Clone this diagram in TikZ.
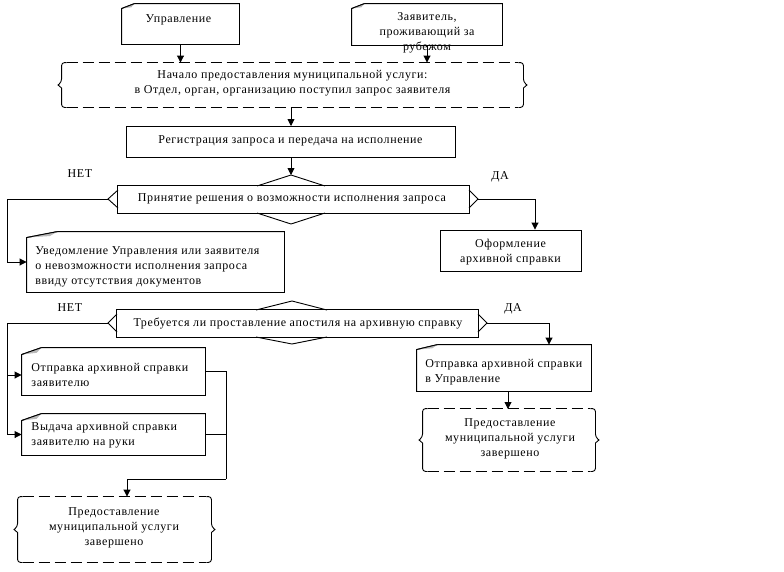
\documentclass[tikz,border=0pt]{standalone}
\usepackage{fontspec}
\setmainfont{Liberation Serif}[LetterSpace=5]
\usetikzlibrary{arrows.meta}

\newcommand\docframe[3]{%
  \draw ([yshift=-#3]#1.north west) -- ([xshift=#2]#1.north west) -- (#1.north east) -- (#1.south east) -- (#1.south west) -- cycle;
  \fill[gray!55] ([yshift=-#3]#1.north west) -- ([xshift=#2]#1.north west) -- ([xshift=0.75*#2, yshift=-0.75*#3]#1.north west) -- cycle;
  \draw ([yshift=-#3]#1.north west) -- ([xshift=#2]#1.north west);
}
\newcommand\termframe[1]{%
  \draw[term] ([xshift=5pt]#1.north west) -- ([xshift=-5pt]#1.north east);
  \draw[term] ([xshift=5pt]#1.south west) -- ([xshift=-5pt]#1.south east);
  \draw[rounded corners=3pt] ([xshift=5pt]#1.north west) -- (#1.north west) -- ([yshift=3pt]#1.west)
     [sharp corners] -- ([xshift=-3.5pt]#1.west) -- ([yshift=-3pt]#1.west)
     [rounded corners=3pt] -- (#1.south west) -- ([xshift=5pt]#1.south west);
  \draw[rounded corners=3pt] ([xshift=-5pt]#1.north east) -- (#1.north east) -- ([yshift=3pt]#1.east)
     [sharp corners] -- ([xshift=3.5pt]#1.east) -- ([yshift=-3pt]#1.east)
     [rounded corners=3pt] -- (#1.south east) -- ([xshift=-5pt]#1.south east);
}

\begin{document}
\begin{tikzpicture}[x=1pt,y=-1pt, line width=0.9pt,
  box/.style={draw, rectangle, inner sep=0pt, fill=white},
  frame/.style={draw=none, rectangle, inner sep=0pt},
  txt/.style={inner sep=0pt, font=\fontsize{12}{15}\selectfont, align=center},
  ltxt/.style={inner sep=0pt, font=\fontsize{12}{15}\selectfont, align=left, anchor=west},
  lab/.style={inner sep=0pt, font=\fontsize{12}{14}\selectfont},
  arr/.style={-{Triangle[length=7pt,width=7pt]}},
  term/.style={dash pattern=on 11pt off 5pt}
]
\useasboundingbox[fill=white] (0,0) rectangle (784,571);

% --- top sources
\node[frame, minimum width=117pt, minimum height=40pt] (upr) at (180.5,24) {};
\docframe{upr}{13pt}{5pt}
\node[txt] (uprT) at (178.5,20) {Управление};

\node[frame, minimum width=150pt, minimum height=41pt] (zav) at (427,24.5) {};
\docframe{zav}{13pt}{5pt}

% --- start terminator
\node[frame, minimum width=461pt, minimum height=44pt] (start) at (292.5,85) {};
\termframe{start}
\node[txt] (startT) at (292.5,83) {Начало предоставления муниципальной услуги:\\в Отдел, орган, организацию поступил запрос заявителя};

% --- registration
\node[box, minimum width=329pt, minimum height=31pt] (reg) at (290.5,141.5) {};
\node[txt] (regT) at (290.5,141) {Регистрация запроса и передача на исполнение};

% --- decision 1
\node[frame, minimum width=351pt, minimum height=27pt] (dec1) at (293.5,199.5) {};
\coordinate (dec1T) at (291,175);
\coordinate (dec1B) at (291,224);
\coordinate (dec1L) at (108,199);
\coordinate (dec1R) at (478,199);
\draw[fill=white] (dec1.north west) rectangle (dec1.south east);
\draw (257,186) -- (dec1T) -- (325,186);
\draw (257,213) -- (dec1B) -- (325,213);
\draw (118,190) -- (dec1L) -- (118,208);
\draw (469,190) -- (dec1R) -- (469,208);
\node[txt] (dec1Tx) at (292,199) {Принятие решения о возможности исполнения запроса};

\node[lab] (no1) at (80,174) {НЕТ};
\node[lab] (yes1) at (500,177) {ДА};

% --- notification
\node[frame, minimum width=257pt, minimum height=60pt] (uved) at (155.5,262) {};
\docframe{uved}{31pt}{6pt}
\node[ltxt] (uvedT) at (35,267) {Уведомление Управления или заявителя\\о невозможности исполнения запроса\\ввиду отсутствия документов};

% --- certificate
\node[box, minimum width=141pt, minimum height=41pt] (ofor) at (510.5,250.5) {};
\node[txt] (oforT) at (510.5,252) {Оформление\\архивной справки};

% --- decision 2
\node[frame, minimum width=361pt, minimum height=27pt] (dec2) at (297.5,323.5) {};
\coordinate (dec2T) at (292,301);
\coordinate (dec2B) at (292,344);
\coordinate (dec2L) at (108,323);
\coordinate (dec2R) at (487,323);
\draw[fill=white] (dec2.north west) rectangle (dec2.south east);
\draw (256,310) -- (dec2T) -- (327,310);
\draw (256,337) -- (dec2B) -- (327,337);
\draw (117,314) -- (dec2L) -- (117,332);
\draw (478,314) -- (dec2R) -- (478,332);
\node[txt] (dec2Tx) at (298,323) {Требуется ли проставление апостиля на архивную справку};

\node[lab] (no2) at (70,308) {НЕТ};
\node[lab] (yes2) at (513,309) {ДА};

% --- left branch
\node[frame, minimum width=183pt, minimum height=47pt] (otpr1) at (113.5,371.5) {};
\docframe{otpr1}{20pt}{7pt}
\node[ltxt] (otpr1T) at (31,374.5) {Отправка архивной справки\\заявителю};

\node[frame, minimum width=183pt, minimum height=41pt] (vyd) at (113.5,434.5) {};
\docframe{vyd}{20pt}{7pt}
\node[ltxt] (vydT) at (31,435) {Выдача архивной справки\\заявителю на руки};

\node[frame, minimum width=193pt, minimum height=65pt] (end1) at (114.5,529.5) {};
\termframe{end1}
\node[txt] (end1T) at (114,528) {Предоставление\\муниципальной услуги\\завершено};

% --- right branch
\node[frame, minimum width=174pt, minimum height=46pt] (otpr2) at (504,368) {};
\docframe{otpr2}{21pt}{5pt}
\node[ltxt] (otpr2T) at (425,372) {Отправка архивной справки\\в Управление};

\node[frame, minimum width=172pt, minimum height=62pt] (end2) at (509,440) {};
\termframe{end2}
\node[txt] (end2T) at (510,439) {Предоставление\\муниципальной услуги\\завершено};

% --- connectors
\draw[arr] (upr.south) -- (upr.south |- start.north);
\draw[arr] (zav.south) -- (zav.south |- start.north);
\node[txt] (zavT) at (427,33) {Заявитель,\\проживающий за\\рубежом};
\draw[arr] (291,107) -- (291,126);
\draw[arr] (291,157) -- (dec1T);

\coordinate (c1) at (7,199);
\draw[arr] (dec1L) -- (c1) |- (uved.west);
\coordinate (c2) at (535,199);
\draw[arr] (dec1R) -- (c2) -- (c2 |- ofor.north);

\coordinate (c3) at (7,323);
\draw[arr] (dec2L) -- (c3) |- (vyd.west);
\draw[arr] (7,375) -- (otpr1.west |- 0,375);
\coordinate (c4) at (549,323);
\draw[arr] (dec2R) -- (c4) -- (c4 |- otpr2.north);
\draw[arr] (508,391) -- (508,409);

\coordinate (c6) at (226,479);
\draw (otpr1.east) -| (c6);
\draw (vyd.east) -- (vyd.east -| c6);
\coordinate (c7) at (127,479);
\draw[arr] (c6) -- (c7) -- (c7 |- end1.north);
\end{tikzpicture}
\end{document}
